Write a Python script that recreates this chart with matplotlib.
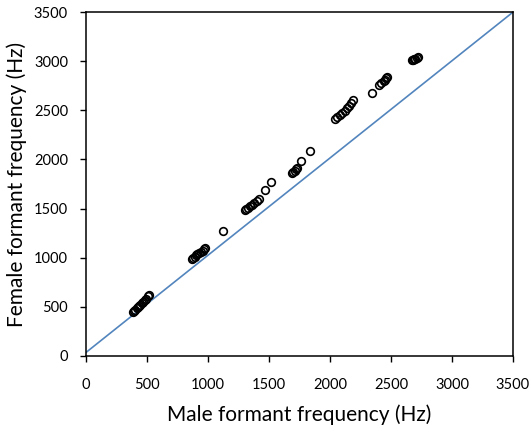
import numpy as np
import matplotlib.pyplot as plt

# formant frequencies (Hz)
male_hz = [385, 395, 405, 415, 425, 435, 445, 455, 465, 480, 495, 510, 520,
           870, 880, 890, 900, 910, 925, 940, 955, 965, 975,
           1120,
           1300, 1315, 1330, 1345, 1360, 1380, 1400, 1420, 1465, 1520,
           1690, 1700, 1710, 1720, 1730, 1760, 1840,
           2040, 2060, 2080, 2100, 2120, 2140, 2160, 2175, 2190, 2345,
           2400, 2420, 2440, 2450, 2460, 2470,
           2670, 2680, 2690, 2700, 2710, 2720]
female_hz = [450, 460, 472, 485, 495, 505, 520, 535, 550, 565, 580, 605, 625,
             990, 1000, 1010, 1030, 1040, 1050, 1060, 1070, 1085, 1100,
             1270,
             1490, 1500, 1510, 1525, 1540, 1555, 1575, 1600, 1685, 1770,
             1860, 1870, 1885, 1900, 1915, 1985, 2090,
             2410, 2430, 2450, 2470, 2490, 2520, 2545, 2580, 2610, 2680,
             2760, 2780, 2800, 2810, 2825, 2840,
             3010, 3015, 3020, 3025, 3035, 3045]

# reference line
line_x = [0, 3500]
line_y = [35, 3500]

ticks = [0, 500, 1000, 1500, 2000, 2500, 3000, 3500]

plt.rcParams['font.family'] = ['Lato', 'DejaVu Sans']

fig = plt.figure(figsize=(5.31, 4.34), dpi=100)
ax = fig.add_axes([0.162, 0.180, 0.804, 0.792])

ax.plot(line_x, line_y, color='#5285bd', lw=1.2, zorder=1)
ax.plot(male_hz, female_hz, 'o', mfc='none', mec='black', ms=5.5, mew=1.2, zorder=2)

ax.set_xlim(0, 3500)
ax.set_ylim(0, 3500)
ax.set_xticks(ticks)
ax.set_yticks(ticks)
ax.tick_params(direction='out', length=4, width=1, labelsize=10.5, pad=9)
ax.tick_params(axis='x', pad=12)
for s in ax.spines.values():
    s.set_linewidth(1.1)

ax.set_xlabel('Male formant frequency (Hz)', fontsize=15, labelpad=9)
ax.set_ylabel('Female formant frequency (Hz)', fontsize=15, labelpad=5)

fig.savefig('out.png', dpi=100)
